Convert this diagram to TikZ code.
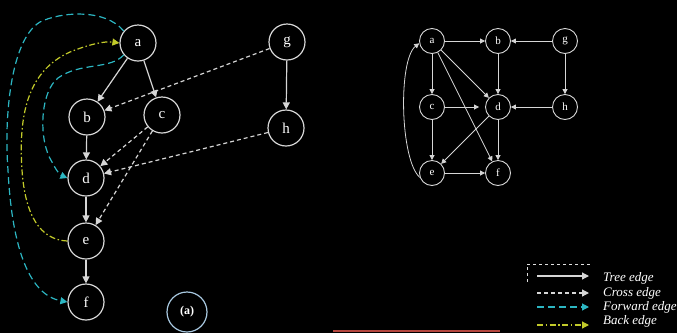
\documentclass[tikz,border=0pt]{standalone}
\usepackage{fontspec}
\setmainfont{Liberation Serif}
\usetikzlibrary{arrows.meta}

\definecolor{edgegray}{HTML}{D6D6D6}
\definecolor{fwdcyan}{HTML}{2CB6C2}
\definecolor{backyel}{HTML}{C2CA2A}
\definecolor{redbar}{HTML}{B5463E}
\definecolor{notecirc}{HTML}{A8C8E0}

\tikzset{
    vtx/.style={circle, draw=edgegray, line width=1.2pt, minimum size=36pt, inner sep=0pt,
        text=white, font=\fontsize{15}{15}\selectfont},
    svtx/.style={circle, draw=edgegray, line width=0.9pt, minimum size=25pt, inner sep=0pt,
        text=white, font=\fontsize{11}{11}\selectfont},
    tip/.style={-{Triangle[length=7pt,width=7pt]}},
    stip/.style={-{Triangle[length=5pt,width=5pt]}},
    tree/.style={edgegray, line width=1.2pt, tip},
    cross/.style={edgegray, line width=1.2pt, dash pattern=on 4pt off 3pt, tip},
    fwd/.style={fwdcyan, line width=1.2pt, dash pattern=on 7pt off 4pt, tip},
    back/.style={backyel, line width=1.2pt, dash pattern=on 6pt off 2.5pt on 1.5pt off 2.5pt, tip},
    sedge/.style={edgegray, line width=0.8pt, stip},
    legtext/.style={anchor=west, text=white, font=\fontsize{13}{13}\selectfont\itshape},
}

\begin{document}
\begin{tikzpicture}[x=1pt, y=-1pt]
    % 1. Background and bounding box
    \fill[black] (0,0) rectangle (677,333);
    \useasboundingbox (0,0) rectangle (677,333);

    % 2. Left graph: DFS forest
    \node[vtx] (a) at (138, 43) {a};
    \node[vtx] (b) at (87, 117) {b};
    \node[vtx] (c) at (162, 115) {c};
    \node[vtx] (d) at (86, 178) {d};
    \node[vtx] (e) at (86, 241) {e};
    \node[vtx] (f) at (86, 302) {f};
    \node[vtx] (g) at (287, 42) {g};
    \node[vtx] (h) at (286, 128) {h};

    % Tree edges
    \draw[tree] (a) -- (b);
    \draw[tree] (a) -- (c);
    \draw[tree] (b) -- (d);
    \draw[tree] (d) -- (e);
    \draw[tree] (e) -- (f);
    \draw[tree] (g) -- (h);

    % Cross edges
    \draw[cross] (g) -- (b);
    \draw[cross] (c) -- (d);
    \draw[cross] (c) -- (e);
    \draw[cross] (h) -- (d);

    % Forward edges
    \draw[fwd] (a.140) .. controls (105,8) and (60,12) .. (40,22)
        .. controls (10,40) and (4,120) .. (8,170)
        .. controls (12,250) and (30,295) .. (f.west);
    \draw[fwd] (a.220) .. controls (110,70) and (80,62) .. (58,78)
        .. controls (40,92) and (38,140) .. (52,162)
        .. controls (56,170) and (60,175) .. (d.west);

    % Back edge
    \draw[back] (e.west) .. controls (40,240) and (25,215) .. (22,170)
        .. controls (18,110) and (30,70) .. (70,52)
        .. controls (90,44) and (105,41) .. (a.west);

    % Label of the part
    \node[text=white, font=\fontsize{12}{12}\selectfont\bfseries] (lbl) at (187, 312) {(a)};
    \draw[notecirc, line width=1.2pt] (lbl) circle (20pt);

    % 3. Right graph: the directed graph
    \node[svtx] (ra) at (432, 41) {a};
    \node[svtx] (rb) at (498, 41) {b};
    \node[svtx] (rg) at (565, 41) {g};
    \node[svtx] (rc) at (432, 107) {c};
    \node[svtx] (rd) at (498, 107) {d};
    \node[svtx] (rh) at (565, 107) {h};
    \node[svtx] (re) at (432, 173) {e};
    \node[svtx] (rf) at (498, 173) {f};

    \draw[sedge] (ra) -- (rb);
    \draw[sedge] (rg) -- (rb);
    \draw[sedge] (rg) -- (rh);
    \draw[sedge] (ra) -- (rc);
    \draw[sedge] (ra) -- (rd);
    \draw[sedge] (ra) -- (rf);
    \draw[sedge] (rb) -- (rd);
    \draw[sedge] (rc) -- ([xshift=-6pt]rd.west);
    \draw[sedge] (rh) -- (rd);
    \draw[sedge] (rd) -- (re);
    \draw[sedge] (rd) -- (rf);
    \draw[sedge] (rc) -- (re);
    \draw[sedge] (re) -- (rf);
    \draw[sedge] (re.200) .. controls (400,160) and (398,60) .. (ra.190);

    % 4. Legend
    \draw[gray!25, dashed, line width=0.8pt] (527,282) -- (527,264) -- (592,264);
    \coordinate (t0) at (537,276);  \coordinate (t1) at (589,276);
    \coordinate (c0) at (537,293);  \coordinate (c1) at (589,293);
    \coordinate (f0) at (537,307);  \coordinate (f1) at (589,307);
    \coordinate (b0) at (537,325);  \coordinate (b1) at (589,325);
    \draw[tree] (t0) -- (t1);
    \draw[cross] (c0) -- (c1);
    \draw[fwd] (f0) -- (f1);
    \draw[back] (b0) -- (b1);
    \node[legtext, inner sep=1pt] (ltree) at (602,278) {Tree edge};
    \node[legtext, inner sep=1pt] (lcross) at (602,293) {Cross edge};
    \node[legtext, inner sep=1pt] (lfwd) at (602,307) {Forward edge};
    \node[legtext, inner sep=1pt] (lback) at (602,321) {Back edge};

    % 5. Red bar at the bottom
    \draw[redbar, line width=2pt] (333,331) -- (500,331);
\end{tikzpicture}
\end{document}
